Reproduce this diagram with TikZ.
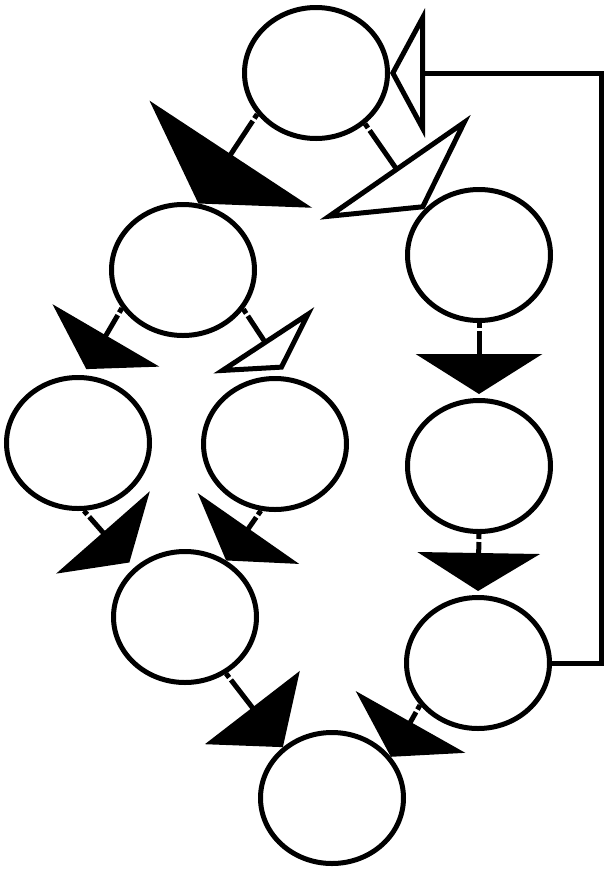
\documentclass[tikz,border=0pt]{standalone}
\usetikzlibrary{arrows.meta,shapes.geometric}
\tikzset{
  state/.style={draw,ellipse,line width=5pt,minimum width=143pt,minimum height=131pt,inner sep=0pt},
  flow/.style={line width=5pt,dash pattern=on 5pt off 3pt on 2000pt},
  solidhead/.style 2 args={-{Triangle[length=#1,width=#2]}},
  openhead/.style 2 args={-{Triangle[open,length=#1,width=#2]}}
}
\begin{document}
\begin{tikzpicture}[x=1pt,y=-1pt]
\useasboundingbox (0,0) rectangle (605,871);
% states
\node[state] (A) at (316,73) {};
\node[state] (B) at (183,270) {};
\node[state] (C) at (479,255) {};
\node[state] (D) at (78,443) {};
\node[state] (E) at (275,444) {};
\node[state] (F) at (479,466) {};
\node[state] (G) at (185,617) {};
\node[state] (H) at (478,663) {};
\node[state] (I) at (332,798) {};
\coordinate (loopB) at (601,663);
\coordinate (loopT) at (601,73);
% transitions
\draw[flow,solidhead={59pt}{194pt}] (A.215) -- (B.77);
\draw[flow,openhead={51pt}{183pt}] (A.-46) -- (C.140);
\draw[flow,solidhead={39pt}{123pt},shorten >=7pt] (B.212) -- (D.86);
\draw[flow,openhead={35pt}{120pt},shorten >=9pt] (B.-33) -- (E.79);
\draw[flow,solidhead={40pt}{126pt},shorten >=4pt] (C.south) -- (F.north);
\draw[flow,solidhead={38pt}{122pt},shorten >=4pt] (F.south) -- (H.north);
\draw[flow,solidhead={40pt}{124pt},shorten >=7pt] (D.-85) -- (G.136);
\draw[flow,solidhead={39pt}{123pt}] (E.258) -- (G.54);
\draw[flow,solidhead={50pt}{119pt}] (G.-54.5) -- (I.134);
\draw[flow,solidhead={40pt}{125pt}] (H.216) -- (I.35);
\draw[line width=5pt,openhead={35pt}{129pt}] (H.east) -- (loopB) -- (loopT) -- (A.east);
\end{tikzpicture}
\end{document}
